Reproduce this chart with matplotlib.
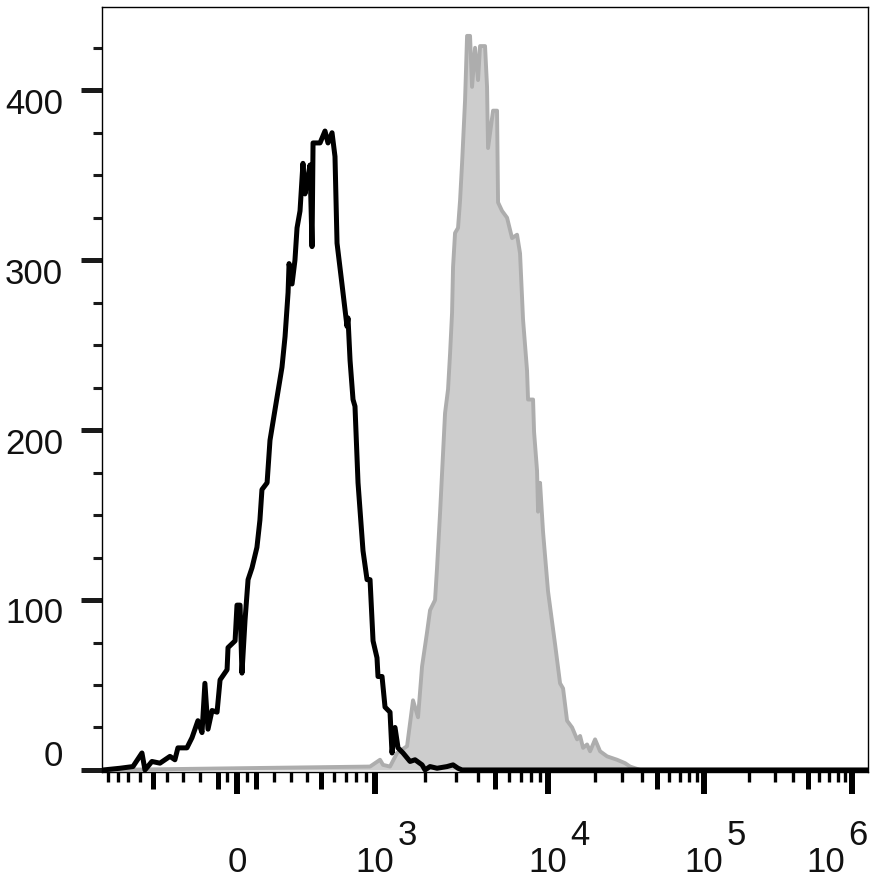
import numpy as np
import matplotlib.pyplot as plt

plt.rcParams['font.family'] = ['Liberation Sans', 'DejaVu Sans']

# control histogram (black outline): fluorescence value, cell count
black_x = [-950, -777, -658, -583, -559, -506, -448, -380, -348, -329, -274, -244,
           -210, -187, -171, -154, -132, -105, -89, -52, -47, -10, 0, 16, 26, 42,
           58, 79, 105, 121, 132, 160, 176, 204, 244, 262, 280, 286, 304, 322, 335,
           354, 373, 386, 406, 420, 434, 441, 491, 528, 551, 583, 607, 624, 666,
           711, 720, 739, 767, 786, 816, 867, 910, 943, 977, 1029, 1044, 1106, 1154,
           1238, 1273, 1327, 1384, 1482, 1631, 1745, 1918, 1996, 2134, 2342, 2674,
           2894, 3090, 3258, 1.28e6]
black_y = [0, 1, 2, 10, 0, 5, 4, 8, 6, 13, 13, 19, 29, 22, 51, 24, 35, 34, 53, 59,
           72, 76, 97, 97, 57, 88, 112, 119, 131, 147, 165, 169, 194, 212, 237, 255,
           281, 298, 286, 300, 319, 329, 357, 339, 349, 356, 308, 369, 369, 376, 369,
           375, 361, 310, 286, 261, 266, 241, 218, 214, 169, 129, 112, 112, 76, 66,
           55, 55, 37, 34, 10, 25, 13, 10, 5, 6, 3, 0, 2, 1, 2, 3, 1, 0, 0]

# stained sample (grey filled)
gray_x = [-950, 943, 1075, 1122, 1238, 1365, 1566, 1698, 1817, 1918, 2050, 2134,
          2281, 2342, 2437, 2604, 2709, 2782, 2856, 2894, 2971, 3090, 3173, 3258,
          3388, 3479, 3618, 3714, 3863, 4017, 4124, 4402, 4519, 4578, 4887, 5149,
          5217, 5496, 5866, 6261, 6681, 6947, 7224, 7610, 7710, 8229, 8336, 8668,
          8781, 9011, 9371, 10000, 11090, 11940, 12480, 13240, 14260, 15350, 16050,
          16770, 17790, 18600, 20020, 21550, 23900, 27700, 31170, 33550, 38900, 1.28e6]
gray_y = [0, 2, 6, 3, 2, 10, 14, 41, 31, 61, 81, 94, 100, 119, 151, 210, 224, 245,
          269, 296, 316, 319, 335, 357, 394, 432, 432, 402, 425, 406, 426, 426, 402,
          366, 388, 388, 334, 329, 325, 313, 315, 304, 265, 235, 218, 218, 199, 176,
          152, 169, 140, 105, 74, 51, 48, 29, 25, 18, 20, 13, 15, 11, 18, 11, 8, 6,
          4, 2, 0, 0]

yticks = [0, 100, 200, 300, 400]
decades = [1e3, 1e4, 1e5, 1e6]
decade_exp = ['3', '4', '5', '6']

# biexponential-like axis: asinh space, piecewise calibrated per decade
W = 500.0
axis_vals = np.array([-1e7, -1e6, -1e5, -1e4, -1e3, 0, 1e3, 1e4, 1e5, 1e6, 1e7])
axis_pos = np.array([-526, -378, -230, -74, 99, 237, 375, 548, 704, 852, 1000], float)
axis_u = np.arcsinh(axis_vals / W)


def fwd(x):
    return np.interp(np.arcsinh(np.asarray(x, float) / W), axis_u, axis_pos)


def inv(p):
    return W * np.sinh(np.interp(np.asarray(p, float), axis_pos, axis_u))


fig = plt.figure(figsize=(8.74, 8.83), dpi=100)
ax = fig.add_axes([102/874, 1 - 772/883, 766/874, 765/883])
ax.set_xscale('function', functions=(fwd, inv))

ax.fill_between(gray_x, gray_y, 0, color='#cdcdcd', lw=0, zorder=1)
ax.plot(gray_x, gray_y, color='#adadad', lw=2.8, zorder=2)
ax.plot(black_x, black_y, color='black', lw=3.6, zorder=3)

ax.set_xlim(-965, 1.28e6)
ax.set_ylim(-1.2, 449)

for s in ['top', 'right', 'left', 'bottom']:
    ax.spines[s].set_linewidth(1.0)
    ax.spines[s].set_color('black')

# y ticks
ax.set_yticks(yticks)
ax.set_yticks(np.arange(25, 450, 25), minor=True)
ax.tick_params(axis='y', which='major', direction='out', length=15, width=3.6,
               color='#1a1a1a', labelleft=False)
ax.tick_params(axis='y', which='minor', direction='out', length=6.5, width=2.2,
               color='#1a1a1a')

# x ticks: major decades, medium at 5x and +-100, minor others
major = [0, 1e3, 1e4, 1e5, 1e6]
medium = [-500, -100, 100, 500, 5e3, 5e4, 5e5]
minor = [-900, -800, -700, -600, -400, -300, -200, -50, 50, 200, 300, 400,
         600, 700, 800, 900]
for d in [1e3, 1e4, 1e5]:
    minor += [k * d for k in [2, 3, 4, 6, 7, 8, 9]]
big = sorted(major + medium)
ax.set_xticks(big)
ax.set_xticks(minor, minor=True)
ax.tick_params(axis='x', which='major', direction='out', length=16, width=4.3,
               color='black', labelbottom=False)
ax.tick_params(axis='x', which='minor', direction='out', length=7, width=2.4,
               color='black')
for t, v in zip(ax.xaxis.get_major_ticks(), big):
    if v in medium:
        t.tick1line.set_markersize(12)
        t.tick1line.set_markeredgewidth(3.6)

fs = 25
tc = '#111111'
for v in yticks:
    dy = 9.5 if v == 0 else -10
    ax.annotate(str(v), xy=(0, v), xycoords=ax.get_yaxis_transform(),
                xytext=(-28, dy), textcoords='offset points',
                ha='right', va='center', fontsize=fs, color=tc)

ax.annotate('0', xy=(0, 0), xycoords=ax.get_xaxis_transform(),
            xytext=(0, -65), textcoords='offset points',
            ha='center', va='center', fontsize=fs, color=tc)
for d, e in zip(decades, decade_exp):
    dx = -19 if d == 1e6 else 0
    ax.annotate('10', xy=(d, 0), xycoords=ax.get_xaxis_transform(),
                xytext=(dx, -65), textcoords='offset points',
                ha='center', va='center', fontsize=fs, color=tc)
    ax.annotate(e, xy=(d, 0), xycoords=ax.get_xaxis_transform(),
                xytext=(dx + 23, -46), textcoords='offset points',
                ha='center', va='center', fontsize=fs, color=tc)

plt.savefig('out.png', dpi=100)
